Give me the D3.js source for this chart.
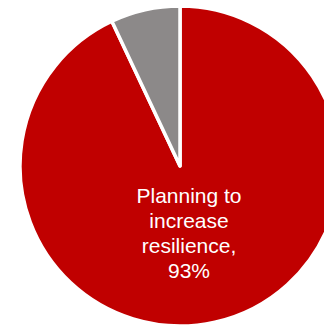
<!DOCTYPE html>
<html>
<head>
<meta charset="utf-8">
<script src="https://cdn.jsdelivr.net/npm/d3@7"></script>
<style>
  body { margin: 0; background: #fff; }
  svg { display: block; }
</style>
</head>
<body>
<div id="chart"></div>
<script>
// slices, in drawing order starting at 12 o'clock going counter-clockwise
const labels = ["Planning to increase resilience", "Other"];
const values = [93, 7];
const colors = ["#c00000", "#8c8989"];

const width = 324, height = 325;
const cx = 180, cy = 166, radius = 160;

const svg = d3.select("#chart")
    .append("svg")
    .attr("width", width)
    .attr("height", height);

const g = svg.append("g")
    .attr("transform", "translate(" + cx + "," + cy + ")");

// clockwise from top: big red slice first, then grey
const pie = d3.pie()
    .sort(null)
    .value(d => d);

const arc = d3.arc()
    .innerRadius(0)
    .outerRadius(radius);

g.selectAll("path")
    .data(pie(values))
  .enter().append("path")
    .attr("d", arc)
    .attr("fill", (d, i) => colors[i])
    .attr("stroke", "#fff")
    .attr("stroke-width", 3.5)
    .attr("stroke-linejoin", "round");

// label in the red slice
const lines = ["Planning to", "increase", "resilience,", values[0] + "%"];
const text = svg.append("text")
    .attr("x", 189)
    .attr("y", 202.5)
    .attr("text-anchor", "middle")
    .attr("fill", "#fff")
    .style("font-family", "Liberation Sans, Arial, sans-serif")
    .style("font-size", "21px");

text.selectAll("tspan")
    .data(lines)
  .enter().append("tspan")
    .attr("x", 189)
    .attr("dy", (d, i) => i === 0 ? 0 : 25)
    .text(d => d);
</script>
</body>
</html>
